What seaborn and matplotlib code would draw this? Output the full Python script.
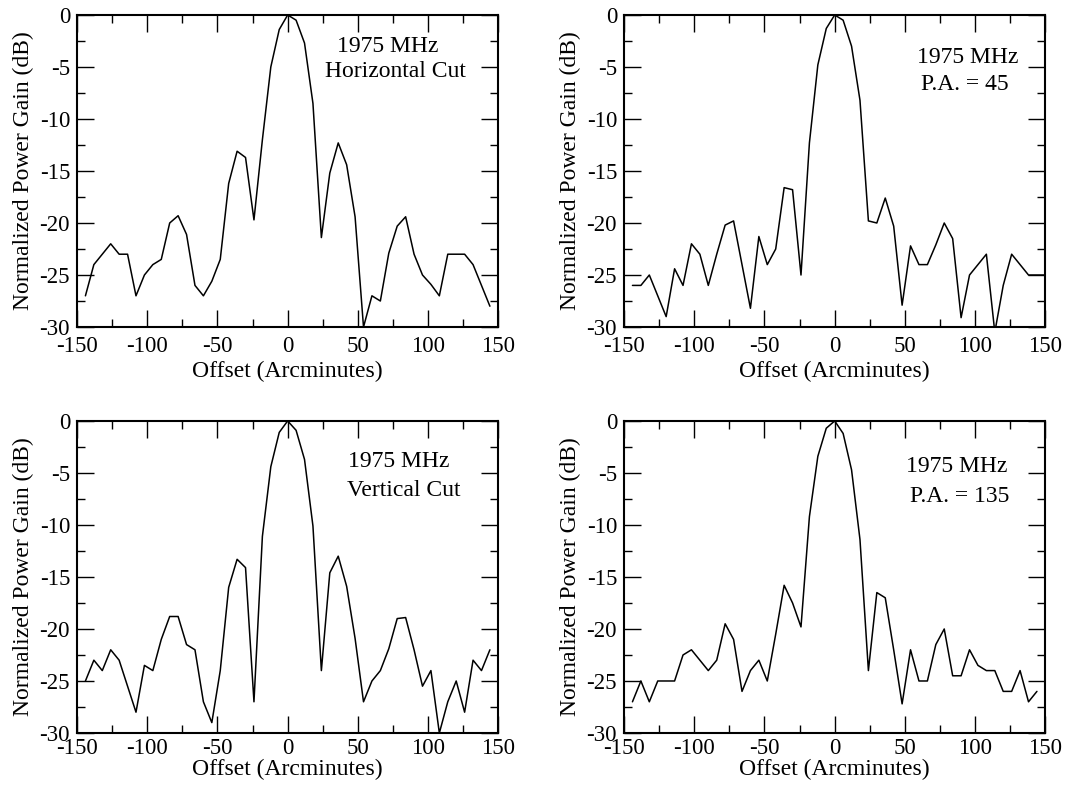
import matplotlib
matplotlib.use("Agg")
import matplotlib.pyplot as plt
from matplotlib.ticker import MultipleLocator
import seaborn as sns
import pandas as pd

offsets = [-144, -138, -132, -126, -120, -114, -108, -102, -96, -90, -84, -78, -72,
           -66, -60, -54, -48, -42, -36, -30, -24, -18, -12, -6, 0,
           6, 12, 18, 24, 30, 36, 42, 48, 54, 60, 66, 72, 78, 84, 90, 96, 102,
           108, 114, 120, 126, 132, 138, 144]
offsets_pa45 = offsets + [150]

gain_horizontal = [-27, -24, -23, -22, -23, -23, -27, -25, -24, -23.5,
                   -20, -19.3, -21.1, -26, -27, -25.6, -23.5, -16.2, -13.1, -13.7,
                   -19.7, -12, -5, -1.4, 0,
                   -0.5, -2.7, -8.5, -21.4, -15.2, -12.3, -14.4, -19.4, -30, -27,
                   -27.5, -22.9, -20.3, -19.4, -23, -25, -25.9, -27, -23, -23,
                   -23, -24, -26, -28]

gain_pa45 = [-26, -26, -25, -27, -29, -24.4, -26, -22, -23, -26,
             -23, -20.2, -19.8, -24, -28.2, -21.3, -24, -22.5, -16.6, -16.8,
             -25, -12.3, -4.8, -1.3, 0,
             -0.5, -3, -8.2, -19.8, -20, -17.6, -20.3, -27.9, -22.2, -24,
             -24, -22.1, -20, -21.5, -29.1, -25, -24, -23, -30.5, -26,
             -23, -24, -25, -25, -25]

gain_vertical = [-25, -23, -24, -22, -23, -25.5, -28, -23.5, -24, -21,
                 -18.8, -18.8, -21.5, -22, -27, -29, -24, -16, -13.3, -14.1,
                 -27, -11.1, -4.4, -1.1, 0,
                 -0.9, -3.7, -10.1, -24, -14.6, -13, -15.9, -20.9, -27, -25,
                 -24, -21.9, -19, -18.9, -22, -25.5, -24, -30, -27, -25,
                 -28, -23, -24, -22]

gain_pa135 = [-27, -25, -27, -25, -25, -25, -22.5, -22, -23, -24,
              -23, -19.5, -21, -26, -24, -23, -25, -20.5, -15.8, -17.5,
              -19.8, -9.2, -3.4, -0.7, 0,
              -1.2, -4.7, -11.4, -24, -16.5, -17, -22, -27.2, -22, -25,
              -25, -21.5, -20, -24.5, -24.5, -22, -23.5, -24, -24, -26,
              -26, -24, -27, -26]

panel_labels = [("1975 MHz", "Horizontal Cut"), ("1975 MHz", "P.A. = 45"),
                ("1975 MHz", "Vertical Cut"), ("1975 MHz", "P.A. = 135")]
xlabel = "Offset (Arcminutes)"
ylabel = "Normalized Power Gain (dB)"

sns.set_style("ticks")
plt.rcParams["font.family"] = ["Liberation Serif", "DejaVu Serif"]
plt.rcParams["axes.unicode_minus"] = False
for k in ["text.color", "axes.labelcolor", "xtick.color", "ytick.color", "axes.edgecolor"]:
    plt.rcParams[k] = "black"

fig = plt.figure(figsize=(10.68, 7.92), dpi=100)

w, h = 0.3945, 0.394
positions = [(0.0721, 0.5871), (0.5843, 0.5871), (0.0721, 0.0745), (0.5843, 0.0745)]
datasets = [(offsets, gain_horizontal), (offsets_pa45, gain_pa45),
            (offsets, gain_vertical), (offsets, gain_pa135)]
# text positions (data coords): (x1, y1, x2, y2)
text_pos = [(71, -3.0, 77, -5.4), (95, -4.1, 93, -6.7),
            (79, -3.9, 83, -6.7), (87, -4.4, 89, -7.3)]

for i, ((l, b), (xs, ys), labels, tp) in enumerate(zip(positions, datasets, panel_labels, text_pos)):
    top_row = i < 2
    ax = fig.add_axes([l, b, w, h])
    df = pd.DataFrame({"offset": xs, "gain": ys})
    sns.lineplot(data=df, x="offset", y="gain", ax=ax, color="black",
                 linewidth=1.1, sort=False, estimator=None)
    ax.set_xlim(-150, 150)
    ax.set_ylim(-30, 0)
    ax.xaxis.set_major_locator(MultipleLocator(50))
    ax.xaxis.set_minor_locator(MultipleLocator(25))
    ax.yaxis.set_major_locator(MultipleLocator(5))
    ax.yaxis.set_minor_locator(MultipleLocator(2.5))
    ax.tick_params(which="major", direction="in", length=12, width=1.0,
                   top=True, right=True, labelsize=16.5)
    ax.tick_params(which="minor", direction="in", length=6, width=1.0,
                   top=True, right=True)
    ax.tick_params(axis="x", which="major", pad=6.5 if top_row else 3.5)
    ax.tick_params(axis="y", which="major", pad=5)
    for s in ax.spines.values():
        s.set_linewidth(1.5)
        s.set_visible(True)
    ax.set_xlabel(xlabel, fontsize=17, labelpad=3 if top_row else 0)
    ax.set_ylabel(ylabel, fontsize=17, labelpad=4)
    ax.text(tp[0], tp[1], labels[0], fontsize=17, ha="center", va="center")
    ax.text(tp[2], tp[3], labels[1], fontsize=17, ha="center", va="center")

fig.savefig("out.png", dpi=100)
